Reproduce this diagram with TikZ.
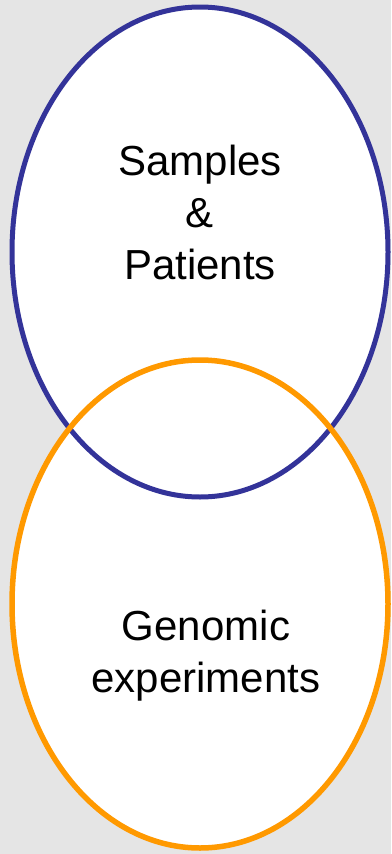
\documentclass[tikz,border=0pt]{standalone}
\usepackage{fontspec}
\setmainfont{Liberation Sans}
\usepackage{tikz}
\usetikzlibrary{positioning}
\definecolor{vennblue}{HTML}{333399}
\definecolor{vennorange}{HTML}{FF9900}
\definecolor{backgray}{HTML}{E5E5E5}
\tikzset{venntext/.style={align=center,font=\fontsize{42}{52}\selectfont,inner sep=0pt}}

\begin{document}
\begin{tikzpicture}[x=1pt,y=-1pt]
\fill [backgray] (0,0) rectangle (391,854);
\useasboundingbox (0,0) rectangle (391,854);
\fill [white] (200,252) ellipse [x radius=188, y radius=245];
\fill [white] (200,604) ellipse [x radius=188, y radius=244];
\draw [vennblue,line width=5pt] (200,252) ellipse [x radius=188, y radius=245];
\draw [vennorange,line width=5.5pt] (200,604) ellipse [x radius=188, y radius=244];
\node [venntext] (samples) at (200,212) {Samples\\\&\\Patients};
\node [venntext] (genomic) at (206,656) {Genomic\\experiments};
\end{tikzpicture}
\end{document}
